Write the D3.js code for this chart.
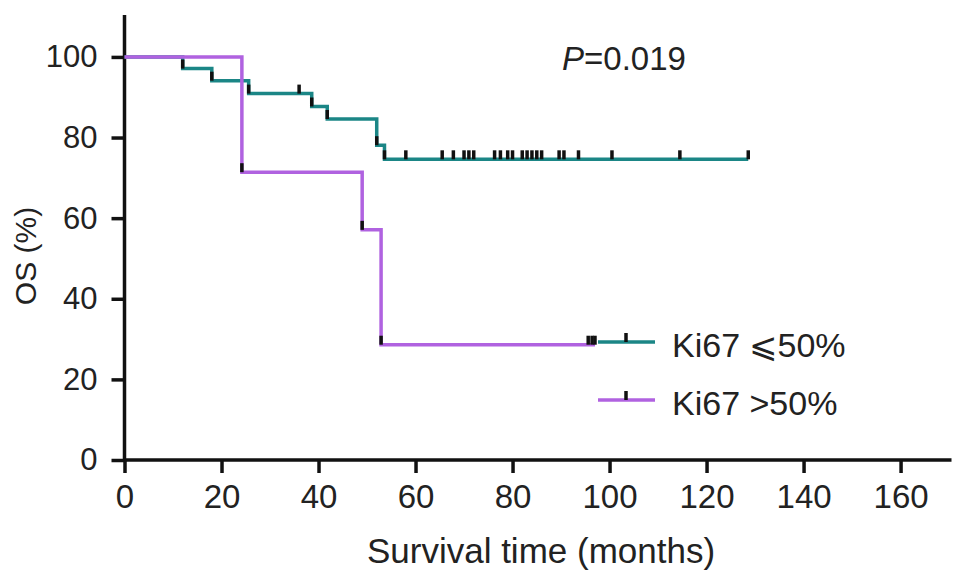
<!DOCTYPE html>
<html>
<head>
<meta charset="utf-8">
<script src="https://cdn.jsdelivr.net/npm/d3@7"></script>
<style>
  body { margin: 0; background: #fff; }
  text { font-family: "Liberation Sans", Arial, sans-serif; fill: #222; }
</style>
</head>
<body>
<div id="chart"></div>
<script>
// Kaplan-Meier OS by Ki67 group

// step points [months, survival %]
const lowSteps = [[0, 100], [12, 97.1], [18, 94.1], [25.6, 90.9], [38.6, 87.7], [41.8, 84.6], [52, 78.1], [53.6, 74.6], [128.6, 74.6]];
const highSteps = [[0, 100], [24.2, 71.4], [49, 57.1], [52.9, 28.6], [97, 28.6]];

// tick marks (events and censored) [months, survival %]
const lowMarks = [[12, 97.1], [18, 94.1], [25.6, 90.9], [36, 90.9], [38.6, 87.7], [41.8, 84.6], [52, 78.1], [53.6, 74.6],
    [58, 74.6], [65.5, 74.6], [67.8, 74.6], [70, 74.6], [71, 74.6], [72, 74.6], [76.3, 74.6], [77.5, 74.6], [79, 74.6],
    [80, 74.6], [82, 74.6], [83, 74.6], [84, 74.6], [85, 74.6], [86, 74.6], [89.6, 74.6], [90.6, 74.6], [93.6, 74.6],
    [100.5, 74.6], [114.5, 74.6], [128.6, 74.6]];
const highMarks = [[24.2, 71.4], [49, 57.1], [52.9, 28.6], [95.6, 28.6], [96.4, 28.6], [97, 28.6]];

const xTicks = [0, 20, 40, 60, 80, 100, 120, 140, 160];
const yTicks = [0, 20, 40, 60, 80, 100];

const groupNames = ["Ki67 \u2A7D50%", "Ki67 >50%"];
const pLabel = "=0.019";

const svgWidth = 969;
const svgHeight = 581;

const teal = "#1b8686";
const purple = "#b062e0";

const svg = d3.select("#chart")
    .append("svg")
    .attr("width", svgWidth)
    .attr("height", svgHeight);

const x = d3.scaleLinear().domain([0, 170.5]).range([124.5, 951.5]);
const y = d3.scaleLinear().domain([0, 110.4]).range([460, 15]);

// axes
const xAxis = svg.append("g")
    .attr("transform", `translate(0, ${y(0)})`)
    .call(d3.axisBottom(x).tickValues(xTicks).tickSize(13).tickPadding(12));

const yAxis = svg.append("g")
    .attr("transform", `translate(${x(0)}, 0)`)
    .call(d3.axisLeft(y).tickValues(yTicks).tickSize(13).tickPadding(14));

[xAxis, yAxis].forEach(function(a) {
    a.select(".domain").attr("stroke", "#111").attr("stroke-width", 3.5);
    a.selectAll(".tick line").attr("stroke", "#111").attr("stroke-width", 3.5);
    a.selectAll(".tick text")
        .style("font-family", "Liberation Sans, Arial, sans-serif")
        .attr("fill", "#222");
});
xAxis.selectAll(".tick text").style("font-size", "33px");
yAxis.selectAll(".tick text").style("font-size", "31px");
xAxis.select(".domain").attr("d", `M${x(0)},0H${x(170.5)}`);
yAxis.select(".domain").attr("d", `M0,${y(0) + 2}V${y(110.4)}`);

// survival curves
const line = d3.line()
    .x(d => x(d[0]))
    .y(d => y(d[1]))
    .curve(d3.curveStepAfter);

svg.append("path")
    .datum(lowSteps)
    .attr("d", line)
    .attr("fill", "none")
    .attr("stroke", teal)
    .attr("stroke-width", 3.5);

svg.append("path")
    .datum(highSteps)
    .attr("d", line)
    .attr("fill", "none")
    .attr("stroke", purple)
    .attr("stroke-width", 3.5);

// marks
svg.selectAll(".mark")
    .data(lowMarks.concat(highMarks))
    .enter()
    .append("line")
    .attr("class", "mark")
    .attr("x1", d => x(d[0]))
    .attr("x2", d => x(d[0]))
    .attr("y1", d => y(d[1]))
    .attr("y2", d => y(d[1]) - 9)
    .attr("stroke", "#111")
    .attr("stroke-width", 3.5);

// legend
const legend = svg.append("g");
[teal, purple].forEach(function(c, i) {
    const ly = 342 + i * 58;
    legend.append("line")
        .attr("x1", 598).attr("x2", 655)
        .attr("y1", ly).attr("y2", ly)
        .attr("stroke", c).attr("stroke-width", 3.5);
    legend.append("line")
        .attr("x1", 626).attr("x2", 626)
        .attr("y1", ly).attr("y2", ly - 9)
        .attr("stroke", "#111").attr("stroke-width", 3.5);
    legend.append("text")
        .attr("x", 672)
        .attr("y", ly + 15)
        .style("font-size", "34px")
        .text(groupNames[i]);
});

// p value
const pText = svg.append("text")
    .attr("x", 562)
    .attr("y", 70)
    .style("font-size", "33px");
pText.append("tspan").style("font-style", "italic").text("P");
pText.append("tspan").text(pLabel);

// axis titles
svg.append("text")
    .attr("x", 541)
    .attr("y", 563)
    .attr("text-anchor", "middle")
    .style("font-size", "35px")
    .text("Survival time (months)");

svg.append("text")
    .attr("transform", `translate(36, 256) rotate(-90)`)
    .attr("text-anchor", "middle")
    .style("font-size", "30px")
    .text("OS (%)");
</script>
</body>
</html>
